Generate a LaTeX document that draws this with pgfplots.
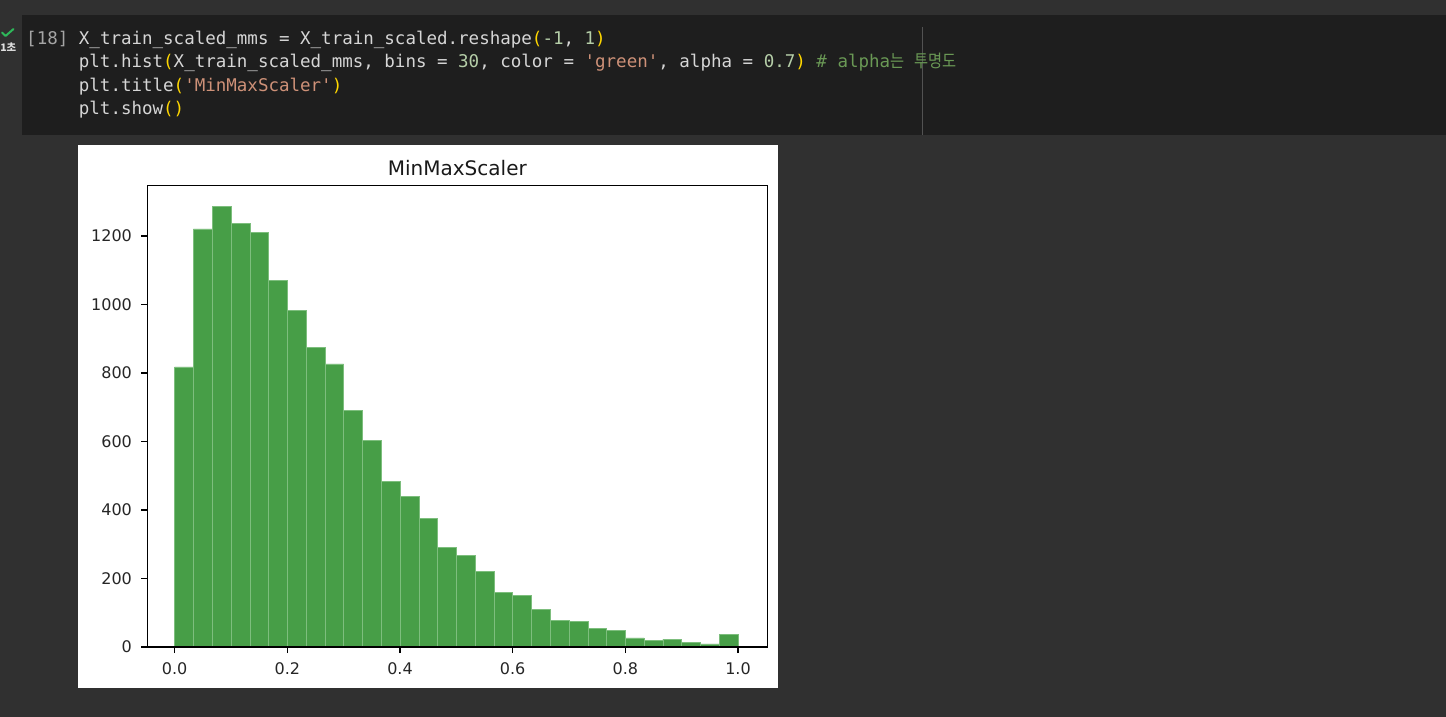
\documentclass[border=0pt]{standalone}
\usepackage{fontspec}
\usepackage{graphicx}
\usepackage{pgfplots}
\pgfplotsset{compat=1.18}

\setmonofont{DejaVu Sans Mono}
\newfontfamily\mplfont{DejaVu Sans}
\newfontfamily\krfont{Noto Sans CJK KR}

% editor colours
\definecolor{pagebg}{RGB}{48,48,48}
\definecolor{cellbg}{RGB}{30,30,30}
\definecolor{ruler}{RGB}{82,82,82}
\definecolor{ctext}{RGB}{214,214,214}
\definecolor{cprompt}{RGB}{165,165,165}
\definecolor{cbrace}{RGB}{255,215,0}
\definecolor{cnum}{RGB}{181,206,168}
\definecolor{cstr}{RGB}{206,145,120}
\definecolor{ccom}{RGB}{106,153,85}
\definecolor{okgreen}{RGB}{46,184,90}
% histogram colours ('green' at alpha 0.7 on white)
\definecolor{histgreen}{RGB}{71,158,71}
\definecolor{histedge}{RGB}{125,190,125}

\newcommand{\kor}[1]{\scalebox{0.875}[1]{\krfont #1}}
\newcommand{\codefont}{\ttfamily\fontsize{8.75bp}{10bp}\selectfont\frenchspacing}

\begin{document}
\begin{tikzpicture}[x=0.5bp,y=-0.5bp]
\path[use as bounding box] (0,0) rectangle (1446,717);
\fill[pagebg] (0,0) rectangle (1446,717);
\fill[cellbg] (22,15) rectangle (1446,135);
\draw[ruler, line width=0.6bp] (922.7,27) -- (922.7,135);

% run status in the gutter
\draw[okgreen, line width=1bp, line cap=round, line join=round] (2,32.5) -- (5.5,36) -- (13.5,29);
\node[anchor=base west, inner sep=0pt, text=white!88!black,
      font=\krfont\bfseries\fontsize{5.2bp}{6bp}\selectfont] at (0,51.5) {1초};

% code cell
\node[anchor=base west, inner sep=0pt, text=ctext, font=\codefont] at (25.85,44)
  {{\color{cprompt}[18]} X\_train\_scaled\_mms = X\_train\_scaled.reshape{\color{cbrace}(}{\color{cnum}-1}, {\color{cnum}1}{\color{cbrace})}};
\node[anchor=base west, inner sep=0pt, text=ctext, font=\codefont] at (78.5,67.5)
  {plt.hist{\color{cbrace}(}X\_train\_scaled\_mms, bins = {\color{cnum}30}, color = {\color{cstr}'green'}, alpha = {\color{cnum}0.7}{\color{cbrace})} {\color{ccom}\# alpha\kor{는} \kor{투명도}}};
\node[anchor=base west, inner sep=0pt, text=ctext, font=\codefont] at (78.5,91)
  {plt.title{\color{cbrace}(}{\color{cstr}'MinMaxScaler'}{\color{cbrace})}};
\node[anchor=base west, inner sep=0pt, text=ctext, font=\codefont] at (78.5,114.5)
  {plt.show{\color{cbrace}()}};

% figure output
\fill[white] (78,145) rectangle (778,688);
\begin{axis}[
  at={(73.65bp,-323.5bp)}, anchor=south west,
  scale only axis, width=310bp, height=230.85bp,
  xmin=-0.0486, xmax=1.052, ymin=0, ymax=1348,
  axis on top,
  axis line style={line width=0.65bp, black},
  tick style={line width=0.65bp, black},
  tick align=outside, major tick length=3bp,
  tick pos=left,
  xtick={0,0.2,0.4,0.6,0.8,1.0},
  xticklabels={0.0,0.2,0.4,0.6,0.8,1.0},
  ytick={0,200,400,600,800,1000,1200},
  yticklabels={0,200,400,600,800,1000,1200},
  ticklabel style={font=\mplfont\fontsize{8bp}{9.6bp}\selectfont, text=black!85, inner sep=0pt},
  xticklabel style={anchor=base, yshift=-10.5bp},
  yticklabel style={anchor=east, xshift=-4.5bp},
  title={MinMaxScaler},
  title style={at={(0.5,1)}, anchor=base, yshift=-1bp, inner sep=0pt,
               font=\mplfont\fontsize{10bp}{12bp}\selectfont, text=black!90},
]
\addplot[ybar interval, fill=histgreen, draw=histedge, line width=0.25bp] coordinates {
  (0.0000,818) (0.0333,1221) (0.0667,1287) (0.1000,1236) (0.1333,1211)
  (0.1667,1071) (0.2000,983) (0.2333,874) (0.2667,827) (0.3000,692)
  (0.3333,603) (0.3667,484) (0.4000,439) (0.4333,375) (0.4667,290)
  (0.5000,268) (0.5333,220) (0.5667,159) (0.6000,151) (0.6333,111)
  (0.6667,78) (0.7000,75) (0.7333,55) (0.7667,49) (0.8000,27)
  (0.8333,20) (0.8667,23) (0.9000,13) (0.9333,9) (0.9667,37)
  (1.0000,37)
};
\end{axis}
\end{tikzpicture}
\end{document}
